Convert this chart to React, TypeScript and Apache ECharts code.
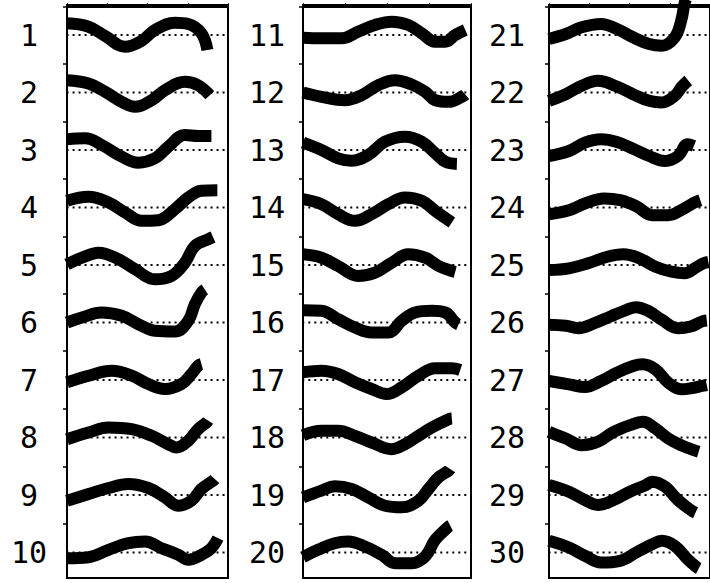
import React, { useEffect, useRef } from "react";
import * as echarts from "echarts";

// Row labels for the three columns of traces.
const LABELS_LEFT = ["1", "2", "3", "4", "5", "6", "7", "8", "9", "10"];
const LABELS_MIDDLE = ["11", "12", "13", "14", "15", "16", "17", "18", "19", "20"];
const LABELS_RIGHT = ["21", "22", "23", "24", "25", "26", "27", "28", "29", "30"];

// Each trace: [position along the record in %, displacement from its baseline].
const TRACES_LEFT: number[][][] = [
  [[0, 11.7], [13.4, 8.3], [23.7, -1], [36.1, -11.7], [46.4, -5.7], [54.6, 5], [67, 12.3], [75.3, 11], [83.5, 1.7], [87.2, -15]],
  [[0, 12.3], [13.4, 9], [23.7, 0.7], [34, -9.3], [42.3, -14.3], [52.6, -7.7], [60.8, 2.3], [73.2, 10.7], [81.4, 7.3], [88.7, -2.7]],
  [[0, 10.7], [11.3, 11.7], [21.6, 5], [34, -6.7], [44.3, -12.7], [54.6, -8.3], [62.9, 3.3], [73.2, 15], [81.4, 14], [89.7, 14]],
  [[0, 6.7], [13.4, 10.7], [25.8, 5], [36.1, -5], [46.4, -13.3], [56.7, -12.7], [67, -1.7], [75.3, 10], [83.5, 16.7], [93.4, 17.3]],
  [[0, 0.7], [9.3, 7.3], [19.6, 12.3], [32, 5.7], [42.3, -4.3], [54.6, -14.3], [64.9, -11], [73.2, 2.3], [79.4, 19], [87.6, 25.7], [90.7, 28]],
  [[0, 0], [9.3, 5], [21.6, 10], [34, 6.7], [44.3, -1.7], [54.6, -8.3], [67, -9], [75.3, 1.7], [79.4, 18.3], [83.5, 30], [85.6, 33]],
  [[0, -2.3], [13.4, 4.3], [27.8, 9.3], [40.2, 4.3], [50.5, -4], [60.8, -9], [71.1, -4], [77.3, 6], [81.4, 14.3], [83.5, 16]],
  [[0, -1.7], [13.4, 5], [25.8, 10], [40.2, 8.3], [52.6, 1.7], [62.9, -6.7], [68, -10], [75.3, -3.3], [81.4, 8.3], [86.6, 15], [87.6, 17]],
  [[0, -5.7], [13.4, 1], [25.8, 7], [38.1, 11], [50.5, 7], [60.8, -2.3], [69.1, -10.7], [77.3, -5.7], [83.5, 6], [90.7, 14.3], [91.8, 16]],
  [[0, -5.7], [13.4, -4.7], [25.8, 2.7], [38.1, 9.3], [48.5, 11], [58.8, 4.3], [69.1, -2.3], [75.3, -7.3], [83.5, -2.3], [89.7, 4.3], [93.8, 14.3]],
];

const TRACES_MIDDLE: number[][][] = [
  [[0, -2.7], [11, -3.3], [22.9, -3.3], [32.9, 3.3], [42.8, 10], [52.8, 13.3], [62.7, 10], [70.7, 1.7], [78.7, -6.7], [84.7, -6.7], [90.6, 0], [96.6, 5]],
  [[0, 0], [11, -4.3], [24.9, -7.7], [34.9, -2.7], [44.8, 7.3], [54.8, 12.3], [64.7, 8], [72.7, 0.7], [78.7, -7.7], [86.7, -9.3], [94.6, -4.3], [96.6, -2]],
  [[0, 7.3], [11, 0], [20.9, -8.3], [28.9, -10.7], [38.8, -5], [48.8, 8.3], [60.8, 13.3], [70.7, 8.3], [78.7, -3.3], [84.7, -11.7], [91.6, -14]],
  [[0, 8.3], [11, 3.3], [20.9, -6.7], [30.9, -13.3], [40.8, -6.7], [50.8, 3.3], [60.8, 10], [70.7, 6.7], [78.7, -3.3], [85.7, -11.7], [88.6, -15]],
  [[0, 10.7], [11, 7.3], [20.9, -1], [32.9, -11], [42.8, -7.7], [52.8, 2.3], [62.7, 10.7], [72.7, 7.3], [80.7, -1], [88.6, -6], [90.6, -7]],
  [[0, 12.3], [11, 11.7], [20.9, 3.3], [30.9, -5], [40.8, -10], [50.8, -10], [58.8, 1.7], [66.7, 10], [76.7, 11.7], [84.7, 10], [90.6, 0], [92.6, -2]],
  [[0, 7.7], [11, 9.3], [20.9, 6], [30.9, -2.3], [40.8, -9], [49.8, -14], [58.8, -7.3], [68.7, 4.3], [78.7, 11.7], [88.6, 11.7], [93.6, 10]],
  [[0, 2.3], [11, 6.7], [20.9, 6.7], [30.9, 1.7], [40.8, -5], [52.8, -11.7], [60.8, -6.7], [68.7, 1.7], [76.7, 10], [86.7, 18.3], [88.6, 19]],
  [[0, -2.3], [11, 4.3], [18.9, 8.7], [28.9, 6], [38.8, -2.3], [48.8, -10.7], [58.8, -12.3], [68.7, -5.7], [74.7, 6], [80.7, 17.7], [86.7, 24.3], [87.6, 26]],
  [[0, -4.7], [8.9, 2.7], [18.9, 9.3], [26.9, 11], [36.9, 6], [46.8, -2.3], [54.8, -10.7], [64.7, -10.7], [72.7, -4], [78.7, 12.7], [86.7, 26], [87.6, 27]],
];

const TRACES_RIGHT: number[][][] = [
  [[0, -4], [10.4, 1], [20.3, 7.7], [32.3, 11], [42.2, 6], [52.2, -2.3], [62.2, -9], [70.1, -10.7], [78.1, -2.3], [82.1, 14.3], [84.1, 31], [85.1, 36]],
  [[0, -8.3], [10.4, -1.7], [20.3, 6.7], [30.3, 11.7], [42.2, 6], [52.2, -1.7], [62.2, -8.3], [70.1, -10], [78.1, -3.3], [82.1, 5], [85.1, 10], [86.5, 12]],
  [[0, -6], [12.4, -1], [22.3, 7.3], [32.3, 10.7], [42.2, 8], [52.2, 1.3], [62.2, -6], [72.1, -11], [80.1, -6], [86.1, 5.7], [90, 4]],
  [[0, -6.7], [12.4, -2.7], [22.3, 4], [34.3, 9], [44.2, 7.3], [54.2, 1.3], [64.1, -7.7], [74.1, -7.7], [82.1, -2.7], [90, 4.7], [94, 7.3]],
  [[0, -5], [12.4, -3.3], [24.3, 1.7], [36.3, 8.3], [46.2, 10.7], [56.2, 6.7], [66.1, -1.7], [76.1, -6.7], [84.1, -8.3], [92, -1.7], [96, 1.7], [99, 3]],
  [[0, -2.3], [10.4, -3.3], [18.3, -5.7], [28.3, -0.7], [38.2, 6], [48.2, 12.7], [54.2, 15.3], [62.2, 11], [70.1, 2.7], [80.1, -5.7], [88, -4], [95, 1], [98, 2]],
  [[0, -1], [12.4, -4.3], [22.3, -7], [32.3, -1], [42.2, 7.3], [52.2, 14], [58.2, 15.7], [66.1, 10.7], [74.1, -2.7], [82.1, -9.3], [90, -7.7], [95, -6], [98, -5]],
  [[0, 5.7], [10.4, -1], [20.3, -7.7], [30.3, -4.3], [40.2, 5.7], [50.2, 12.3], [58.2, 15.7], [66.1, 9], [74.1, -1], [82.1, -7.7], [90, -12.7], [93, -14.3]],
  [[0, 10], [12.4, 3.3], [22.3, -5], [30.3, -10], [40.2, -5], [50.2, 3.3], [60.2, 10], [64.1, 13.3], [72.1, 8.3], [80.1, -5], [88, -15], [91, -17.7]],
  [[0, 11.7], [12.4, 5], [22.3, -3.3], [32.3, -10], [44.2, -8.3], [54.2, 0], [64.1, 8.3], [70.1, 11.7], [78.1, 6.7], [86.1, -6.7], [92, -15], [93, -16]],
];

// Vertical spacing between traces, in displacement units.
const ROW = 57.5;
const Y_MIN = -1.25;
const Y_MAX = 571.75;
const BASELINE_START = -4;

const PANELS = [
  { labels: LABELS_LEFT, traces: TRACES_LEFT, left: 67, width: 161, labelMargin: 38 },
  { labels: LABELS_MIDDLE, traces: TRACES_MIDDLE, left: 303, width: 168, labelMargin: 36 },
  { labels: LABELS_RIGHT, traces: TRACES_RIGHT, left: 549, width: 168, labelMargin: 42 },
];

const rowCenter = (i: number) => (i + 0.5) * ROW;

function buildOption(): echarts.EChartsCoreOption {
  const grid: any[] = [];
  const xAxis: any[] = [];
  const yAxis: any[] = [];
  const series: any[] = [];

  PANELS.forEach((panel, p) => {
    grid.push({
      left: panel.left,
      top: 5,
      width: panel.width,
      height: 573,
      show: true,
      borderColor: "#000",
      borderWidth: 2,
      backgroundColor: "transparent",
    });
    xAxis.push({
      type: "value",
      gridIndex: p,
      min: 0,
      max: 100,
      interval: 25,
      axisLine: { show: true, lineStyle: { color: "#000", width: 2 } },
      axisTick: { show: true, inside: true, length: 3, lineStyle: { color: "#000", width: 1 } },
      axisLabel: { show: false },
      splitLine: { show: false },
    });
    const tickValues = panel.labels.map((_, i) => i * ROW);
    const labelValues = panel.labels.map((_, i) => rowCenter(i));
    yAxis.push({
      type: "value",
      gridIndex: p,
      inverse: true,
      min: Y_MIN,
      max: Y_MAX,
      axisLine: { show: true, lineStyle: { color: "#000", width: 2 } },
      axisTick: {
        show: true,
        length: 4,
        customValues: tickValues,
        lineStyle: { color: "#000", width: 1.5 },
      },
      axisLabel: {
        show: true,
        customValues: labelValues,
        formatter: (v: number) => panel.labels[Math.round(v / ROW - 0.5)] ?? "",
        align: "center",
        margin: panel.labelMargin,
        padding: [14, 0, 0, 0],
        color: "#000",
        fontFamily: "DejaVu Sans Mono",
        fontSize: 30,
      },
      splitLine: { show: false },
    });

    panel.traces.forEach((trace, i) => {
      const c = rowCenter(i);
      series.push({
        type: "line",
        xAxisIndex: p,
        yAxisIndex: p,
        data: [
          [BASELINE_START, c],
          [100, c],
        ],
        symbol: "none",
        clip: false,
        silent: true,
        z: 1,
        lineStyle: { color: "#000", width: 2, type: [2, 4] },
      });
      series.push({
        type: "line",
        xAxisIndex: p,
        yAxisIndex: p,
        data: trace.map(([x, d]) => [x, c - d]),
        symbol: "none",
        smooth: 0.4,
        clip: true,
        z: 2,
        lineStyle: { color: "#000", width: 12, cap: "butt", join: "round" },
      });
    });
  });

  return {
    animation: false,
    backgroundColor: "#fff",
    grid,
    xAxis,
    yAxis,
    series,
  };
}

export default function App() {
  const ref = useRef<HTMLDivElement>(null);

  useEffect(() => {
    if (!ref.current) return;
    const chart = echarts.init(ref.current, undefined, { renderer: "svg" });
    chart.setOption(buildOption());
    return () => chart.dispose();
  }, []);

  return (
    <div
      ref={ref}
      style={{ position: "absolute", left: 0, top: 0, width: 710, height: 583 }}
    />
  );
}
